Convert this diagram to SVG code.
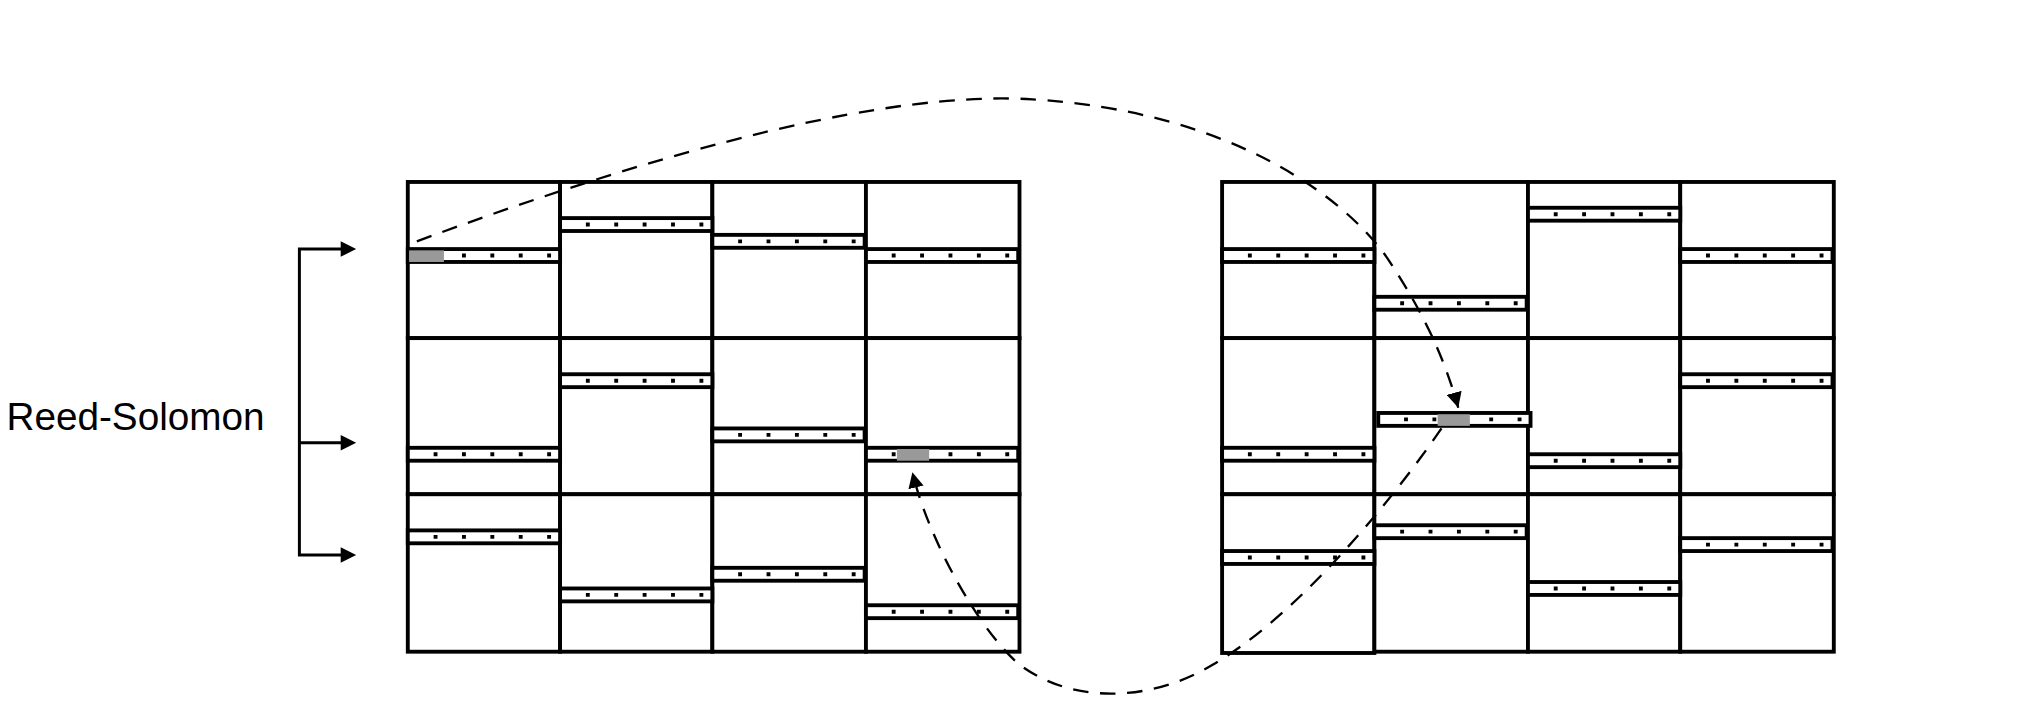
<svg xmlns="http://www.w3.org/2000/svg" width="2022" height="716" viewBox="0 0 2022 716">
<style>
.b{fill:#fff;stroke:#000;stroke-width:3}
.s{fill:#fff;stroke:#000;stroke-width:3}
.t{stroke:#000;stroke-width:3;stroke-dasharray:3 19}
.g{fill:#999}
.c{fill:none;stroke:#000;stroke-width:1.8;stroke-dasharray:12 9}
.a{fill:none;stroke:#000;stroke-width:2.3}
</style>
<defs>
<marker id="ah2" viewBox="0 0 10 10" refX="10" refY="5" markerWidth="12" markerHeight="12" markerUnits="userSpaceOnUse" orient="auto"><path d="M0,0L10,5L0,10z"/></marker>
<g id="st"><rect class="s" x="0" y="0" width="118" height="10"/><line class="t" x1="20" y1="5" x2="112" y2="5"/></g>
</defs>
<rect width="2022" height="716" fill="#fff"/>
<g transform="scale(1.2905)">
<g id="left-grid">
<rect class="b" x="316" y="141" width="118" height="121"/><rect class="b" x="434" y="141" width="118" height="121"/><rect class="b" x="552" y="141" width="119" height="121"/><rect class="b" x="671" y="141" width="119" height="121"/>
<rect class="b" x="316" y="262" width="118" height="121"/><rect class="b" x="434" y="262" width="118" height="121"/><rect class="b" x="552" y="262" width="119" height="121"/><rect class="b" x="671" y="262" width="119" height="121"/>
<rect class="b" x="316" y="383" width="118" height="122"/><rect class="b" x="434" y="383" width="118" height="122"/><rect class="b" x="552" y="383" width="119" height="122"/><rect class="b" x="671" y="383" width="119" height="122"/>
<use href="#st" x="316" y="193"/><use href="#st" x="316" y="347"/><use href="#st" x="316" y="411"/>
<use href="#st" x="434" y="169"/><use href="#st" x="434" y="290"/><use href="#st" x="434" y="456"/>
<use href="#st" x="552" y="182"/><use href="#st" x="552" y="332"/><use href="#st" x="552" y="440"/>
<use href="#st" x="671" y="193"/><use href="#st" x="671" y="347"/><use href="#st" x="671" y="469"/>
<rect class="g" x="317" y="194" width="27" height="9"/>
<rect class="g" x="695" y="348" width="25" height="9"/>
</g>
<g id="right-grid">
<rect class="b" x="947" y="141" width="118" height="121"/><rect class="b" x="1065" y="141" width="119" height="121"/><rect class="b" x="1184" y="141" width="118" height="121"/><rect class="b" x="1302" y="141" width="119" height="121"/>
<rect class="b" x="947" y="262" width="118" height="121"/><rect class="b" x="1065" y="262" width="119" height="121"/><rect class="b" x="1184" y="262" width="118" height="121"/><rect class="b" x="1302" y="262" width="119" height="121"/>
<rect class="b" x="947" y="383" width="118" height="123"/><rect class="b" x="1065" y="383" width="119" height="122"/><rect class="b" x="1184" y="383" width="118" height="122"/><rect class="b" x="1302" y="383" width="119" height="122"/>
<use href="#st" x="947" y="193"/><use href="#st" x="947" y="347"/><use href="#st" x="947" y="427"/>
<use href="#st" x="1065" y="230"/><use href="#st" x="1068" y="320"/><use href="#st" x="1065" y="407"/>
<use href="#st" x="1184" y="161"/><use href="#st" x="1184" y="352"/><use href="#st" x="1184" y="451"/>
<use href="#st" x="1302" y="193"/><use href="#st" x="1302" y="290"/><use href="#st" x="1302" y="417"/>
<rect class="g" x="1114" y="321" width="25" height="9"/>
</g>
<g id="connectors">
<path class="c" marker-end="url(#ah2)" d="M323,187 C580,92 720,72 800,77 C950,86 1040,150 1075,200 C1105,245 1120,280 1130,316"/>
<path class="c" marker-end="url(#ah2)" d="M1117,332 C1070,400 1000,480 940,515 C890,545 830,545 790,515 C760,490 720,420 707,366"/>
<path class="a" d="M266,193 H232 V430 H266 M232,343 H266"/>
<path d="M264,187 L276,193 L264,199z M264,337 L276,343 L264,349z M264,424 L276,430 L264,436z"/>
</g>
<text x="5" y="333" font-family="Liberation Sans, Arial, sans-serif" font-size="30">Reed-Solomon</text>
</g>
</svg>
